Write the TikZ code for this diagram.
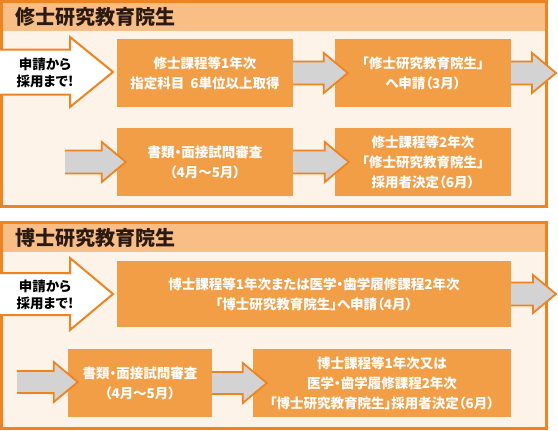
\documentclass[tikz,border=0pt]{standalone}
\usepackage{fontspec}
\setmainfont{Noto Sans CJK JP}[RawFeature=+palt]
\usetikzlibrary{calc}

\definecolor{borderorange}{HTML}{EE8421}
\definecolor{headband}{HTML}{F8BE86}
\definecolor{panelbody}{HTML}{FEF3E9}
\definecolor{boxorange}{HTML}{F29E46}
\definecolor{arrowgray}{HTML}{D3D3D3}
\definecolor{titleink}{HTML}{2A1A12}

\tikzset{
  panel/.style={draw=borderorange, line width=3pt},
  title/.style={anchor=west, inner sep=0pt, text=titleink,
    font=\bfseries\fontsize{20}{24}\selectfont},
  stepbox/.style={fill=boxorange, text=white, align=center, inner sep=0pt,
    minimum width=176pt, minimum height=68pt,
    font=\bfseries\fontsize{13.5}{20}\selectfont},
  grayarrow/.style={fill=arrowgray, draw=borderorange, line width=1.8pt, line join=miter},
  whitearrow/.style={fill=white, draw=borderorange, line width=2pt, line join=miter},
  startlabel/.style={align=center, inner sep=0pt, text=black,
    font=\bfseries\fontsize{13.5}{17}\selectfont},
}

% block arrow: [style]{from}{tip}{shaft half}{head half}{head length}
\newcommand\blockarrow[6][grayarrow]{%
  \filldraw[#1] let \p1=(#2), \p2=(#3) in
    (\x1,\y1+#4) -- (\x2-#6,\y1+#4) -- (\x2-#6,\y1+#5) -- (\x2,\y1)
    -- (\x2-#6,\y1-#5) -- (\x2-#6,\y1-#4) -- (\x1,\y1-#4);}

\begin{document}
\begin{tikzpicture}[x=1pt, y=-1pt]
\useasboundingbox (0,0) rectangle (558,431);

%% 修士
\fill[panelbody] (1.5,1.5) rectangle (546.5,206.5);
\fill[headband] (1.5,1.5) rectangle (546.5,31);
\draw[panel] (1.5,1.5) rectangle (546.5,206.5);
\node[title] (mtitle) at (15,16.5) {修士研究教育院生};

\node[stepbox] (m1) at (205,73) {修士課程等1年次\\指定科目\ \ 6単位以上取得};
\node[stepbox] (m2) at (423,73) {「修士研究教育院生」\\へ申請（3月）};
\node[stepbox] (m3) at (205,162) {書類・面接試問審査\\（4月～5月）};
\node[stepbox] (m4) at (423,162) {修士課程等2年次\\「修士研究教育院生」\\採用者決定（6月）};

\coordinate (mstart) at (0,72);
\coordinate (mend) at (556,72);
\coordinate (min) at (65,162);
\blockarrow[whitearrow]{mstart}{113,72}{22.5pt}{35pt}{43pt}
\node[startlabel] (mlabel) at (45,73) {申請から\\採用まで!};
\blockarrow{m1.east}{$(m2.west)+(13,0)$}{11.5pt}{20pt}{24pt}
\blockarrow{m2.east}{mend}{11.5pt}{20pt}{24pt}
\blockarrow{min}{$(m3.west)+(9,0)$}{11.5pt}{20pt}{24pt}
\blockarrow{m3.east}{$(m4.west)+(14,0)$}{11.5pt}{20pt}{24pt}

%% 博士
\fill[panelbody] (1.5,222.5) rectangle (546.5,428.5);
\fill[headband] (1.5,222.5) rectangle (546.5,252);
\draw[panel] (1.5,222.5) rectangle (546.5,428.5);
\node[title] (dtitle) at (15,238) {博士研究教育院生};

\node[stepbox, minimum width=394pt, minimum height=66pt] (d1) at (314,294)
  {博士課程等1年次または医学・歯学履修課程2年次\\「博士研究教育院生」へ申請（4月）};
\node[stepbox, minimum width=144pt] (d2) at (140,383) {書類・面接試問審査\\（4月～5月）};
\node[stepbox, minimum width=258pt] (d3) at (382,383)
  {博士課程等1年次又は\\医学・歯学履修課程2年次\\「博士研究教育院生」採用者決定（6月）};

\coordinate (dstart) at (0,294);
\coordinate (dend) at (556,295);
\coordinate (din) at (17,382);
\blockarrow[whitearrow]{dstart}{113,294}{21pt}{36pt}{43pt}
\node[startlabel] (dlabel) at (45,295) {申請から\\採用まで!};
\blockarrow{d1.east}{dend}{11.5pt}{19pt}{23pt}
\blockarrow{din}{$(d2.west)+(10,0)$}{11pt}{20pt}{24pt}
\blockarrow{d2.east}{$(d3.west)+(14,0)$}{11pt}{20pt}{24pt}
\end{tikzpicture}
\end{document}
